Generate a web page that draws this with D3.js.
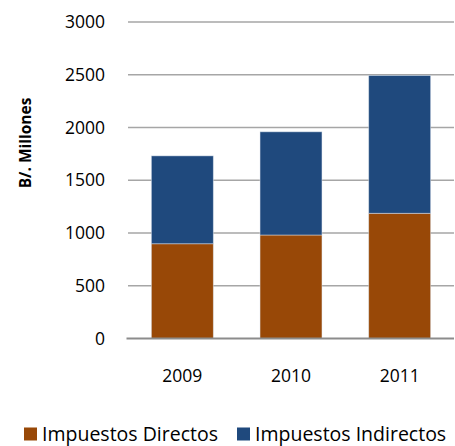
<!DOCTYPE html>
<html lang="es">
<head>
    <meta charset="UTF-8">
    <title>Impuestos</title>
    <script src="https://d3js.org/d3.v7.min.js"></script>
    <style>
        html, body{
            margin:0;
            background:#fff;
        }
        text{
            font-family: "Open Sans", "Noto Sans", sans-serif;
            fill:#000;
        }
        .grid line{
            stroke:#a6a6a6;
            stroke-width:1.6;
        }
    </style>
</head>
<body>
<div id="chart"></div>
<script>
    // data
    var years = ["2009", "2010", "2011"];
    var directos = [898, 981, 1187];
    var indirectos = [833, 978, 1306];
    var yTicks = [0, 500, 1000, 1500, 2000, 2500, 3000];
    var seriesNames = ["Impuestos Directos", "Impuestos Indirectos"];
    var colors = ["#984807", "#1f497d"];

    var W = 455, H = 446;
    var margin = {top: 22, right: 1, bottom: 108, left: 128};
    var width = W - margin.left - margin.right,
        height = 338.5 - margin.top;

    var svg = d3.select("#chart").append("svg")
        .attr("width", W)
        .attr("height", H);

    var g = svg.append("g")
        .attr("transform", "translate(" + margin.left + "," + margin.top + ")");

    var x = d3.scaleBand()
        .domain(years)
        .range([0, width])
        .paddingInner(0.43)
        .paddingOuter(0.215);

    var y = d3.scaleLinear()
        .domain([0, 3000])
        .range([height, 0]);

    // gridlines
    g.append("g")
        .attr("class", "grid")
        .selectAll("line")
        .data(yTicks.filter(function(d){ return d > 0; }))
        .enter().append("line")
        .attr("x1", 0)
        .attr("x2", width)
        .attr("y1", function(d){ return y(d); })
        .attr("y2", function(d){ return y(d); });

    // y tick labels
    g.append("g")
        .selectAll("text")
        .data(yTicks)
        .enter().append("text")
        .attr("x", -23)
        .attr("y", function(d){ return y(d); })
        .attr("dy", "0.35em")
        .attr("text-anchor", "end")
        .style("font-size", "17.5px")
        .text(function(d){ return d; });

    // stacked data
    var rows = years.map(function(yr, i){
        return {year: yr, d: directos[i], ind: indirectos[i]};
    });
    var stack = d3.stack().keys(["d", "ind"]);
    var layers = stack(rows);

    g.selectAll(".layer")
        .data(layers)
        .enter().append("g")
        .attr("class", "layer")
        .attr("fill", function(d, i){ return colors[i]; })
        .selectAll("rect")
        .data(function(d){ return d; })
        .enter().append("rect")
        .attr("x", function(d){ return x(d.data.year); })
        .attr("y", function(d){ return y(d[1]); })
        .attr("width", x.bandwidth())
        .attr("height", function(d){ return y(d[0]) - y(d[1]); })
        .attr("stroke", "#dfe6ee")
        .attr("stroke-opacity", 0.6)
        .attr("stroke-width", 0.8);

    // baseline axis
    g.append("line")
        .attr("x1", -1.5)
        .attr("x2", width)
        .attr("y1", y(0))
        .attr("y2", y(0))
        .attr("stroke", "#8c8c8c")
        .attr("stroke-width", 2);

    // x labels
    g.append("g")
        .selectAll("text")
        .data(years)
        .enter().append("text")
        .attr("x", function(d){ return x(d) + x.bandwidth() / 2; })
        .attr("y", height + 43)
        .attr("text-anchor", "middle")
        .style("font-size", "17.5px")
        .text(function(d){ return d; });

    // y title
    svg.append("text")
        .attr("transform", "translate(31,143) rotate(-90)")
        .attr("text-anchor", "middle")
        .style("font-size", "15.5px")
        .style("font-weight", "bold")
        .text("B/. Millones");

    // legend
    var legendX = [24, 237];
    var legend = svg.append("g");
    seriesNames.forEach(function(name, i){
        legend.append("rect")
            .attr("x", legendX[i])
            .attr("y", 427.5)
            .attr("width", 13)
            .attr("height", 13)
            .attr("fill", colors[i]);
        legend.append("text")
            .attr("x", legendX[i] + 18)
            .attr("y", 441)
            .style("font-size", "19.5px")
            .text(name);
    });
</script>
</body>
</html>
